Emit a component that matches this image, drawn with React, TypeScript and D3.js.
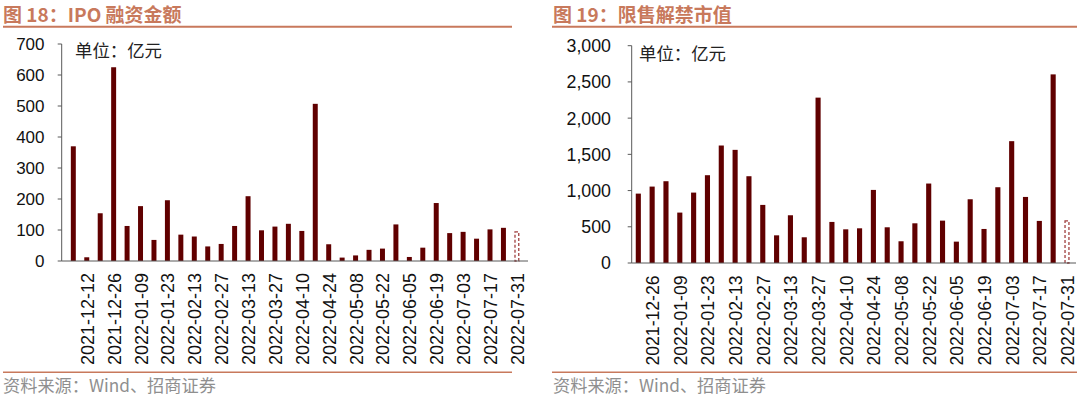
import React from "react";
import * as d3 from "d3";

// ---------- data ----------
const ipoDates = [
  "2021-12-05", "2021-12-12", "2021-12-19", "2021-12-26", "2022-01-02", "2022-01-09",
  "2022-01-16", "2022-01-23", "2022-01-30", "2022-02-13", "2022-02-20", "2022-02-27",
  "2022-03-06", "2022-03-13", "2022-03-20", "2022-03-27", "2022-04-03", "2022-04-10",
  "2022-04-17", "2022-04-24", "2022-05-01", "2022-05-08", "2022-05-15", "2022-05-22",
  "2022-05-29", "2022-06-05", "2022-06-12", "2022-06-19", "2022-06-26", "2022-07-03",
  "2022-07-10", "2022-07-17", "2022-07-24", "2022-07-31",
];
const ipoValues = [
  370, 12, 154, 625, 113, 177, 68, 196, 85, 79, 47, 55,
  113, 209, 99, 111, 120, 97, 507, 54, 11, 18, 36, 40,
  118, 13, 43, 187, 90, 94, 72, 102, 107, 94,
];
const ipoTicks = [0, 100, 200, 300, 400, 500, 600, 700];

const unlockDates = ipoDates.slice(2);
const unlockValues = [
  958, 1055, 1129, 696, 972, 1212, 1622, 1562, 1198, 802, 382, 659,
  355, 2283, 567, 465, 479, 1009, 493, 300, 548, 1097, 585, 295,
  880, 470, 1046, 1682, 912, 581, 2604, 581,
];
const unlockTicks = [0, 500, 1000, 1500, 2000, 2500, 3000];

const titleLeft = "图 18：IPO 融资金额";
const titleRight = "图 19：限售解禁市值";
const unitText = "单位：亿元";
const sourceText = "资料来源：Wind、招商证券";

// ---------- style ----------
const BAR = "#600000";
const DASH = "#a04040";
const ACCENT = "#c8795c";
const AXIS = "#595959";
const LATIN = "'Liberation Sans', Arial, 'Noto Sans CJK SC', sans-serif";
const CJK = "'Noto Sans CJK SC', 'Liberation Sans', sans-serif";

type PanelProps = {
  dates: string[];
  values: number[];
  ticks: number[];
  yMax: number;
  xRange: [number, number];
  yRange: [number, number];
  axisX: number;
  axisEnd: number;
  labelRight: number;
  xLabelTop: number;
  unitX: number;
  unitY: number;
  yFontSize: number;
  xFontSize: number;
  fmt: (v: number) => string;
  title: string;
  titleX: number;
  lineX: [number, number];
};

function Panel(p: PanelProps) {
  const x = d3.scaleBand<string>().domain(p.dates).range(p.xRange).paddingInner(0.63).paddingOuter(0.315);
  const y = d3.scaleLinear().domain([0, p.yMax]).range(p.yRange);
  const bw = x.bandwidth();
  const n = p.values.length;
  return (
    <g>
      <text x={p.titleX} y={22} fill={ACCENT} fontFamily={CJK} fontWeight="bold" fontSize={19}>
        {p.title}
      </text>
      <line x1={p.lineX[0]} x2={p.lineX[1]} y1={26.7} y2={26.7} stroke={ACCENT} strokeWidth={2} />
      <line x1={p.lineX[0]} x2={p.lineX[1]} y1={372.3} y2={372.3} stroke={ACCENT} strokeWidth={1.6} />
      <text x={p.titleX} y={392} fill="#8f8f8f" fontFamily={CJK} fontSize={17.2}>
        {sourceText}
      </text>

      {p.values.map((v, i) =>
        i === n - 1 ? (
          <rect
            key={i}
            x={(x(p.dates[i]) as number) + 0.6}
            y={y(v)}
            width={bw - 1.2}
            height={y(0) - y(v)}
            fill="#fff"
            stroke={DASH}
            strokeWidth={1.3}
            strokeDasharray="3,2"
          />
        ) : (
          <rect key={i} x={x(p.dates[i]) as number} y={y(v)} width={bw} height={y(0) - y(v)} fill={BAR} />
        )
      )}

      <line x1={p.axisX} x2={p.axisX} y1={p.yRange[1]} y2={p.yRange[0]} stroke={AXIS} strokeWidth={1} />
      <line x1={p.axisX} x2={p.axisEnd} y1={p.yRange[0]} y2={p.yRange[0]} stroke={AXIS} strokeWidth={1} />
      {p.ticks.map((t) => (
        <g key={t}>
          <line x1={p.axisX - 4} x2={p.axisX} y1={y(t)} y2={y(t)} stroke={AXIS} strokeWidth={1} />
          <text
            x={p.labelRight}
            y={y(t)}
            dy="0.36em"
            textAnchor="end"
            fontFamily={LATIN}
            fontSize={p.yFontSize}
            fill="#111"
          >
            {p.fmt(t)}
          </text>
        </g>
      ))}
      {p.dates.map((d, i) =>
        i % 2 === 1 ? (
          <text
            key={d}
            transform={`translate(${(x(d) as number) + bw / 2 + 0.5},${p.xLabelTop}) rotate(-90)`}
            dy="0.36em"
            textAnchor="end"
            fontFamily={LATIN}
            fontSize={p.xFontSize}
            fill="#111"
          >
            {d}
          </text>
        ) : null
      )}
      <text x={p.unitX} y={p.unitY} dy="0.36em" fontFamily={CJK} fontSize={17.4} fill="#222">
        {unitText}
      </text>
    </g>
  );
}

export default function App() {
  const fmtPlain = d3.format("d");
  const fmtComma = d3.format(",");
  return (
    <svg width={1080} height={398} style={{ position: "absolute", left: 0, top: 0, background: "#fff" }}>
      <rect width={1080} height={398} fill="#fff" />
      <Panel
        dates={ipoDates}
        values={ipoValues}
        ticks={ipoTicks}
        yMax={700}
        xRange={[66.6, 523.6]}
        yRange={[261, 44]}
        axisX={61.7}
        axisEnd={528}
        labelRight={44.5}
        xLabelTop={273}
        unitX={75}
        unitY={50.7}
        yFontSize={17}
        xFontSize={18}
        fmt={fmtPlain}
        title={titleLeft}
        titleX={3}
        lineX={[3, 512]}
      />
      <Panel
        dates={unlockDates}
        values={unlockValues}
        ticks={unlockTicks}
        yMax={3000}
        xRange={[631.4, 1073.9]}
        yRange={[263, 45.7]}
        axisX={631.7}
        axisEnd={1076}
        labelRight={611}
        xLabelTop={275.5}
        unitX={639}
        unitY={53.3}
        yFontSize={17.8}
        xFontSize={17.6}
        fmt={fmtComma}
        title={titleRight}
        titleX={553}
        lineX={[552, 1077]}
      />
    </svg>
  );
}
